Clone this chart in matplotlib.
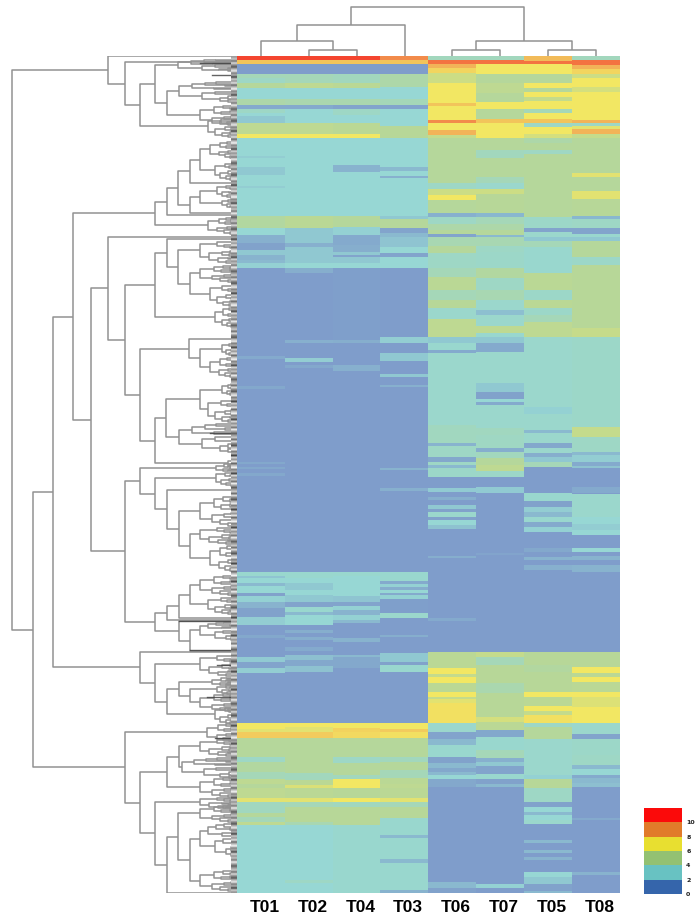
"""Clustered heatmap with row and column dendrograms."""

import matplotlib

matplotlib.use("Agg")
import matplotlib.pyplot as plt
import numpy as np
from matplotlib.collections import LineCollection
from matplotlib.colors import LinearSegmentedColormap, ListedColormap

# column order in the heatmap
COLUMNS = ["T01", "T02", "T04", "T03", "T06", "T07", "T05", "T08"]
N_ROWS = 837

# each column is a list of (last row of the band, value)
T01 = [(4,10),(8,7),(18,0),(22,3),(27,2.5),(32,4),(43,2),(49,3.5),(53,.5),(57,2.5),(60,2),(67,1.5),(78,4.3),(82,6),
       (100,2),(102,1.7),(111,2),(119,1.5),(130,2),(132,1.7),(160,2),(172,3.8),(179,2),(187,.7),(194,.2),(199,1.5),
       (204,.8),(207,1),(212,1.8),(300,0),(303,.5),(330,0),(333,.4),(406,0),(408,.4),(411,0),(413,.4),(417,0),(420,.4),
       (516,0),(520,2.2),(522,1.4),(527,2),(530,1),(537,2),(540,.2),(546,1.8),(552,.8),(561,.2),(569,1.7),(579,0),
       (582,.4),(601,0),(606,1.6),(612,.3),(617,1.7),(667,0),(673,6),(676,5.5),(682,6.8),(701,4),(706,2.5),(716,3.8),
       (723,3),(728,4.3),(732,4),(742,4.3),(746,5.5),(757,2.7),(761,4),(766,3),(769,4.3),(837,2)]
T02 = [(4,10),(8,7),(18,0),(22,3),(27,3),(32,4.3),(43,2),(49,3.3),(53,.5),(67,2),(78,4.3),(82,6),(160,2),(172,4.2),
       (179,1.5),(187,1.5),(191,.7),(201,1.5),(207,1.5),(212,2),(217,.6),(284,0),(287,.7),(302,0),(306,1.7),(309,0),
       (312,.4),(516,0),(522,2.2),(527,2),(534,1.5),(539,2),(546,1.5),(551,.3),(556,2.2),(559,1),(569,2),(574,0),
       (577,.6),(581,0),(584,.6),(591,0),(595,.5),(599,0),(604,1.2),(610,.4),(616,1.3),(667,0),(671,6),(676,5.5),
       (682,6.8),(705,4),(717,4),(724,2.8),(729,4.2),(732,5.2),(742,4.2),(746,5.5),(751,3),(766,4.1),(769,3.2),
       (824,2),(827,2.5),(837,2)]
T04 = [(4,10),(8,7),(18,0),(27,2.8),(32,4.2),(43,2),(49,3.3),(53,.3),(59,2.5),(67,2),(78,4.2),(82,6),(109,2),(116,.8),
       (160,2),(171,4),(179,1.8),(189,.5),(196,.6),(199,1.5),(201,.3),(207,1.5),(212,2),(284,.1),(287,.6),(309,0),
       (315,.7),(516,0),(520,2.2),(527,2),(540,2),(546,1.4),(550,.3),(554,1.8),(559,.8),(564,1.8),(567,1),(582,0),
       (586,.8),(599,0),(601,1),(612,.4),(667,0),(672,6),(676,6.6),(682,6.4),(701,4),(707,2.5),(719,4),(723,2.8),
       (732,6),(742,4.1),(746,6),(751,2.7),(769,4.1),(837,2.2)]
T03 = [(4,8.5),(8,7),(18,0),(31,3.5),(43,2),(49,3),(53,.3),(70,2),(82,4.1),(111,2),(115,1),(120,2),(122,.7),(160,2),
       (163,1.5),(172,4),(177,.3),(181,1),(191,1.4),(197,2),(201,.3),(212,2),(281,0),(287,1.7),(297,0),(305,1.5),
       (318,0),(321,1.5),(329,0),(331,.7),(412,0),(414,.8),(432,0),(435,.7),(516,0),(525,2.2),(528,.5),(531,1.8),
       (534,.6),(537,2),(539,.5),(543,1.8),(557,.1),(562,2.3),(579,0),(581,.6),(597,0),(606,1.5),(609,.2),(616,2.2),
       (667,0),(673,6),(676,6.8),(682,6.2),(701,4),(706,2.8),(714,4),(722,3),(728,4.2),(732,4.3),(742,4.2),(746,5.5),
       (751,3),(762,4.1),(779,2.2),(782,1),(803,2.2),(807,1),(834,2.2),(837,.8)]
T06 = [(4,2.8),(8,9),(12,7.5),(17,6.5),(27,4.8),(47,6),(50,7),(64,6),(67,8.5),(74,6),(79,7.5),(82,4.5),(127,4),(133,2.5),
       (139,4.8),(144,6),(157,4),(161,.7),(168,2.5),(174,3.5),(178,4),(181,.3),(190,3.2),(197,4),(212,2.5),(221,3),
       (234,4.2),(244,3),(252,4.1),(263,2.3),(281,4.3),(287,1.5),(294,2.2),(297,.5),(369,2.3),(387,2.7),(390,.8),
       (401,2.5),(406,.4),(409,2.5),(412,1),(421,2.4),(432,0),(436,1.6),(441,0),(444,.6),(449,0),(453,1.5),(456,.2),
       (461,2.3),(464,.2),(469,2),(473,1.3),(500,0),(502,.6),(562,0),(565,.5),(596,0),(612,4.2),(618,6),(621,4.5),
       (627,6),(636,4.2),(641,6),(643,4.5),(647,5.5),(667,6.2),(676,2.3),(683,.3),(689,1),(701,2.2),(707,.2),(712,1),
       (716,.4),(719,1),(723,2),(731,.4),(826,0),(832,1),(837,.2)]
T07 = [(4,2.8),(8,9),(18,6),(27,4),(37,4.3),(46,4),(53,6),(63,4),(67,7),(82,6),(94,4),(102,2.8),(121,4),(127,3),(133,2.3),
       (138,4.8),(157,4.1),(161,.9),(168,3),(174,3.5),(179,4),(181,1),(190,3.2),(196,2.5),(212,2.4),(222,3.8),(234,2.5),
       (244,3.2),(254,2.3),(259,1.2),(270,2.3),(277,4.3),(281,2.2),(287,1.5),(296,.5),(327,2.3),(336,1.5),(343,.2),
       (346,2),(349,.5),(372,2.3),(379,2.7),(392,2.6),(396,.6),(402,2.8),(409,4),(415,4.3),(421,2.4),(431,0),(437,1.6),
       (497,0),(499,.3),(596,0),(601,4.5),(609,3),(627,4.1),(637,3.3),(661,4.1),(666,5),(674,4.2),(681,.4),(694,2.2),
       (702,3),(706,.7),(710,1.5),(718,.3),(723,2.2),(728,.2),(731,1),(828,0),(832,1.8),(837,0)]
T05 = [(5,7.3),(8,9),(18,6),(27,4),(32,6),(36,4),(41,6),(45,4.5),(53,6),(57,3),(63,6),(67,7),(71,2.5),(78,6),(82,5),
       (87,3.5),(94,4),(98,2.6),(161,4),(172,2.4),(176,.3),(181,2.3),(185,1.5),(191,3),(217,2.2),(234,4.2),(244,2.4),
       (252,4.2),(259,2.4),(266,3),(281,4.3),(351,2.3),(358,1.8),(374,2.3),(377,1),(387,2.3),(392,.4),(397,2.3),(401,.6),
       (406,1.5),(411,3),(437,0),(445,2.2),(451,.2),(456,1.7),(461,1),(466,2.2),(471,.5),(476,1.8),(492,0),(496,.4),
       (501,0),(504,.8),(509,0),(514,.7),(596,0),(609,4.1),(616,3.8),(636,4.1),(641,6),(650,4.2),(655,6),(659,4.5),
       (667,6.2),(671,2.5),(683,4),(719,2.3),(723,1.8),(732,4.1),(746,2.5),(751,.2),(756,2),(759,1),(764,2),(768,2.3),
       (784,0),(787,1),(794,0),(797,1),(801,0),(804,.8),(816,0),(821,2),(828,1.5),(835,.2),(837,1)]
T08 = [(4,2.8),(9,9),(13,7.5),(18,6.5),(22,4.8),(31,6),(36,5),(64,6),(67,7.5),(70,2.5),(73,5.5),(78,7.5),(82,4.5),(117,4),
       (121,5.5),(135,4),(143,5.5),(160,4.1),(163,.9),(172,2.5),(178,.3),(181,2.2),(185,1.5),(201,4),(209,2.4),(272,4.1),
       (281,4.6),(371,2.4),(381,4.5),(396,2.5),(399,1),(406,1.7),(410,.5),(412,1.3),(431,0),(437,.5),(438,0),(461,2.3),
       (468,2),(474,1.7),(479,2),(492,0),(496,2),(500,0),(504,.8),(509,0),(516,.8),(596,0),(611,4.1),(617,6),(621,4.2),
       (626,6),(636,4.2),(641,6),(651,5.3),(667,6),(678,2.3),(683,.3),(699,2.4),(709,2.5),(713,1),(719,2),(722,.5),
       (727,1),(731,1.2),(762,0),(764,.5),(816,0),(819,.8),(837,0)]
COLUMN_BANDS = [T01, T02, T04, T03, T06, T07, T05, T08]

# column tree: (height, left, right), leaves are column positions
COLUMN_TREE = (49, (31, (15, 0.5, (6, 1.5, 2.5)), 3.5), (15, (6, 4.5, 5.5), (6, 6.5, 7.5)))

# shapes of the unreadable tips of the row tree, heights and rows as fractions of the tip
FAN_A = (1.0, (0.62, (0.38, 0.0, (0.2, 0.08, 0.16)), (0.42, (0.2, 0.24, 0.32), 0.40)),
         (0.68, (0.35, (0.16, 0.52, 0.58), 0.66), (0.45, 0.76, (0.25, 0.86, (0.1, 0.94, 1.0)))))
FAN_B = (1.0, (0.55, 0.0, (0.35, 0.14, (0.18, 0.22, 0.30))),
         (0.75, (0.4, (0.2, 0.42, 0.5), (0.22, 0.58, 0.66)), (0.5, (0.25, 0.74, 0.82), (0.3, 0.9, 1.0))))
FAN_C = (1.0, (0.78, (0.56, (0.36, 0.0, 0.08), (0.2, 0.14, 0.2)), (0.4, 0.28, 0.36)),
         (0.6, (0.38, 0.48, 0.6), (0.3, (0.15, 0.72, 0.84), (0.15, 0.9, 1.0))))
FANS = {"a": FAN_A, "b": FAN_B, "c": FAN_C}

# row tree: (height, upper, lower), a number is a leaf row, (height, first row, last row, shape) is a tip
TOP_BRANCH = (129, 0,
              (112, 6,
               (97,
                (82, (59, 4, 15, "c"),
                 (70, (58, 26, 46, "c"), (37, 50, 70, "a"))),
                (29, 63, 81, "b"))))
MIDDLE_A = (82,
            (70,
             (59,
              (47, (37, (27, 86, 102, "a"), (22, 108, 124, "b")), 127),
              (47, (37, (20, 130, 142, "b"), (15, 143, 152, "a")), 157)),
             159),
            (29, 162, 178, "a"))
MIDDLE_B = (129, 181,
            (112,
             (82,
              (70, 183,
               (59, (37, 186, 207, "b"),
                (47, (37, 210, 226, "a"), (27, 230, 250, "b")))),
              (22, 252, 272, "a")),
             (97,
              (48, 283, (37, (15, 288, 300, "b"), (27, 302, 322, "a"))),
              (82,
               (71, (37, (15, 328, 340, "a"), (29, 345, 366, "b")), (58, 368, 396, "c")),
               (9, 404, 412, "b")))))
MIDDLE_C = (112,
            (97, (21, 408, 416, "a"),
             (82, (21, 417, 430, "b"),
              (70, 434,
               (58, (37, 441, 471, "a"),
                (47, (37, 472, 488, "b"), (27, 490, 516, "a")))))),
            (82,
             (70,
              (58,
               (47, (37, 520, 540, "a"), (29, 542, 558, "b")),
               562),
              564),
             (58, 565,
              (47, (37, 566, 584, "c"), 595))))
LOWER_A = (97, 596,
           (82, (37, 600, 620, "b"),
            (70,
             (58, (25, 622, 630, "a"),
              (47, (20, 630, 638, "b"), (37, 638, 656, "a"))),
             (22, 652, 668, "b"))))
BOTTOM_BRANCH = (112, (30, 668, 686, "a"),
                 (97,
                  (70,
                   (58, (37, 684, 700, "b"), (55, 702, 722, "c")),
                   (37, 722, 742, "a")),
                  (82, (37, 742, 752, "b"),
                   (70,
                    (59, (37, 750, 766, "a"),
                     (47, (37, 768, 800, "c"), (37, 815, 836, "a"))),
                    837))))
ROW_TREE = (225, TOP_BRANCH,
            (204,
             (184, (164, MIDDLE_A, (146, MIDDLE_B, MIDDLE_C)), LOWER_A),
             BOTTOM_BRANCH))

# (row, height) of the tips that print darker
DARK_TIPS = [(7, 37), (19, 25), (377, 27), (565, 58), (594, 47), (609, 20), (641, 30), (682, 22)]

# grey levels of the illegible row labels beside the heatmap, the pattern repeats down the rows
LABEL_SHADES = [0.62, 0.78, 0.45, 0.85, 0.55, 0.35, 0.72, 0.9, 0.5, 0.68, 0.28, 0.8,
                0.6, 0.88, 0.42, 0.74, 0.95, 0.52, 0.66, 0.3, 0.84, 0.58, 0.76, 0.48, 0.92, 0.64, 0.38]

# heatmap colours, faded, and the stronger legend colours
HEAT_VALUES = [0, 2, 4, 6, 8, 10]
HEAT_COLORS = ["#7f9dcb", "#97d7d4", "#b5d79b", "#f2e763", "#f2a455", "#f4452f"]
LEGEND_COLORS = ["#3565ab", "#68c2c2", "#93c172", "#e8df30", "#e17b2a", "#fb0a0a"]
LEGEND_TICKS = [0, 2, 4, 6, 8, 10]
LEGEND_MAX = 12

LINE_COLOR = "#929292"
WIDTH, HEIGHT = 700, 923


def axes_px(fig, left, top, right, bottom):
    """Add axes from pixel edges, measured from the top left."""
    return fig.add_axes([left / WIDTH, 1 - bottom / HEIGHT, (right - left) / WIDTH, (bottom - top) / HEIGHT])


def bands_to_column(bands):
    """Expand (last row, value) bands into one value per row."""
    column = np.zeros(N_ROWS)
    start = 0
    for end, value in bands:
        column[start:end] = value
        start = end
    return column


def expand_fan(fan):
    """Turn a (height, first, last, shape) tip into a plain nested node."""
    height, first, last, shape = fan

    def scale(node):
        if not isinstance(node, tuple):
            return first + node * (last - first)
        return (node[0] * height, scale(node[1]), scale(node[2]))

    return scale(FANS[shape])


def walk(node, segments):
    """Collect the lines of a nested tree, return the node's position and height."""
    if not isinstance(node, tuple):
        return node, 0
    if len(node) == 4:
        node = expand_fan(node)
    height, first, second = node
    pos_a, height_a = walk(first, segments)
    pos_b, height_b = walk(second, segments)
    segments.append([(pos_a, height_a), (pos_a, height), (pos_b, height), (pos_b, height_b)])
    return (pos_a + pos_b) / 2, height


heat = np.column_stack([bands_to_column(bands) for bands in COLUMN_BANDS])
heat_cmap = LinearSegmentedColormap.from_list(
    "heat", [(value / HEAT_VALUES[-1], color) for value, color in zip(HEAT_VALUES, HEAT_COLORS)]
)

fig = plt.figure(figsize=(WIDTH / 100, HEIGHT / 100), dpi=100)

ax_heat = axes_px(fig, 237, 56, 620, 893)
ax_heat.imshow(
    heat, cmap=heat_cmap, vmin=0, vmax=10, aspect="auto", interpolation="nearest", extent=(0, 8, N_ROWS, 0)
)
ax_heat.set_yticks([])
ax_heat.set_xticks(np.arange(len(COLUMNS)) + 0.575, COLUMNS, family="Liberation Sans", weight="bold", fontsize=12.5)
ax_heat.tick_params(axis="x", length=0, pad=5)
for spine in ax_heat.spines.values():
    spine.set_visible(False)

ax_top = axes_px(fig, 237, 0, 620, 56)
top_segments = []
walk(COLUMN_TREE, top_segments)
ax_top.add_collection(LineCollection(top_segments, colors=LINE_COLOR, linewidths=1.1))
ax_top.set_xlim(0, 8)
ax_top.set_ylim(0, 56)
ax_top.axis("off")

ax_left = axes_px(fig, 0, 56, 237, 893)
row_segments = []
walk(ROW_TREE, row_segments)
# the tree stores (row, height), the axes want (height, row)
row_segments = [[(height, row) for row, height in segment] for segment in row_segments]
ax_left.add_collection(LineCollection(row_segments, colors=LINE_COLOR, linewidths=1.1))
for row, height in DARK_TIPS:
    ax_left.plot([height, 0], [row, row], color="#3c3c3c", lw=1.0, alpha=0.8)
ax_left.set_xlim(237, 0)
ax_left.set_ylim(N_ROWS, 0)
ax_left.axis("off")

# row labels are a blurred grey strip in the original
ax_labels = axes_px(fig, 231, 56, 237, 893)
label_strip = np.resize(LABEL_SHADES, N_ROWS // 2)[:, None]
ax_labels.imshow(label_strip, cmap="gray", vmin=0, vmax=1, aspect="auto", interpolation="bilinear")
ax_labels.axis("off")

ax_key = axes_px(fig, 644, 808, 682, 894)
ax_key.imshow(
    np.arange(len(LEGEND_COLORS))[::-1, None],
    cmap=ListedColormap(LEGEND_COLORS),
    aspect="auto",
    extent=(0, 1, 0, LEGEND_MAX),
)
ax_key.set_xticks([])
ax_key.yaxis.tick_right()
ax_key.set_yticks(LEGEND_TICKS, [str(tick) for tick in LEGEND_TICKS], fontsize=4.5, weight="bold", color="#222222")
ax_key.tick_params(axis="y", length=0, pad=3)
for spine in ax_key.spines.values():
    spine.set_visible(False)

fig.savefig("out.png", dpi=100)
